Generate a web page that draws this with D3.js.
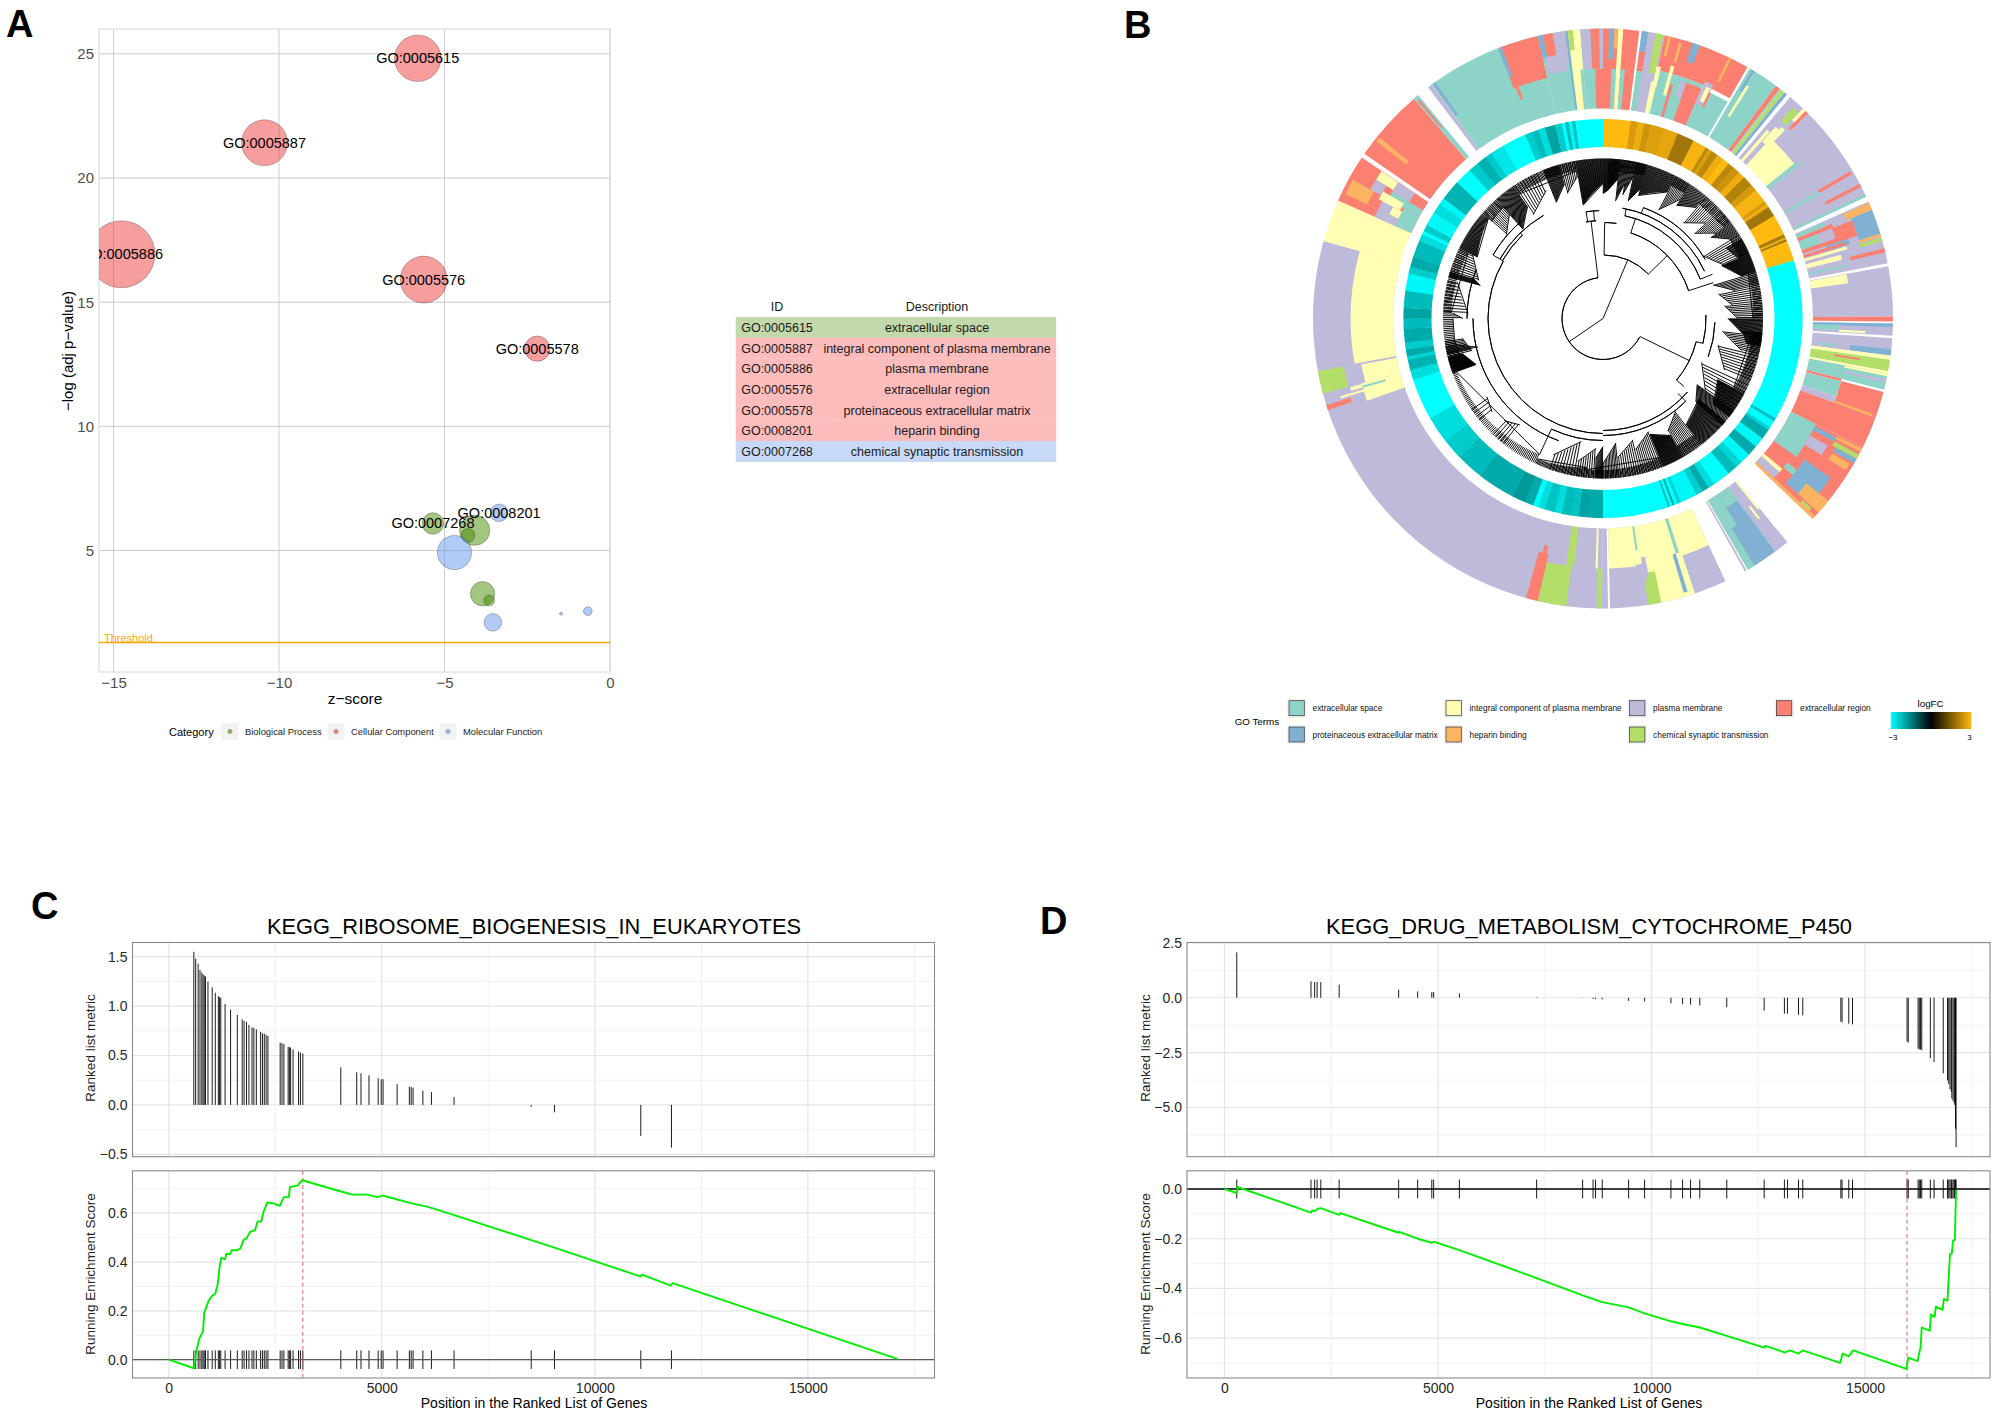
<!DOCTYPE html>
<html><head><meta charset="utf-8">
<script src="https://d3js.org/d3.v7.min.js"></script>
<style>html,body{margin:0;padding:0;background:#fff}svg{display:block}text{font-family:"Liberation Sans",Arial,sans-serif}</style>
</head><body><svg id="c" width="1999" height="1417"></svg>
<script>
// ---------- Panel A data ----------
const goIds   = ["GO:0005886","GO:0005615","GO:0005887","GO:0005576","GO:0005578","","GO:0007268","","GO:0008201","","","","","",""];
const goZ     = [-14.76,-5.81,-10.44,-5.63,-2.2,-4.09,-5.35,-4.29,-3.35,-4.7,-3.85,-3.65,-3.54,-0.67,-1.48];
const goLogP  = [16.93,24.82,21.42,15.91,13.13,5.82,6.09,5.61,6.52,4.92,3.26,2.99,2.11,2.56,2.46];
const goCount = [1000,481,471,491,144,205,103,42,69,261,133,26,69,17,2];
const goCat   = [1,1,1,1,1,0,0,0,2,2,0,0,2,2,2];
const catNames = ["Biological Process","Cellular Component","Molecular Function"];
const threshold = 1.3;
const zTicks = [-15,-10,-5,0], pTicks = [5,10,15,20,25];
const tableIds = ["GO:0005615","GO:0005887","GO:0005886","GO:0005576","GO:0005578","GO:0008201","GO:0007268"];
const tableDesc = ["extracellular space","integral component of plasma membrane","plasma membrane","extracellular region","proteinaceous extracellular matrix","heparin binding","chemical synaptic transmission"];
const tableGroup = [0,1,1,1,1,1,2];

// ---------- Panel B data ----------
const termNames = ["extracellular space","integral component of plasma membrane","plasma membrane","extracellular region","proteinaceous extracellular matrix","heparin binding","chemical synaptic transmission"];
// [start deg, end deg, inner fraction, outer fraction, term], painted in order
const ringBlocks = [
[0,7.2,0,1,3],[1.2,2.3,.62,1,4],[2.3,2.9,.75,1,5],[1.9,3,0,.5,0],[3,4,0,1,1],[4,5,0,.5,0],
[7.7,12.3,0,1,2],[7.7,9,0,.5,0],[7.7,9,.5,.75,3],[7.7,9,.75,1,4],[10.5,12,.5,1,6],
[12.3,29.9,.55,1,3],[12.3,23.2,0,.55,0],[11.5,12.8,0,.4,1],[12,13,.35,.6,1],[15,15.8,.27,.65,1],[16,16.7,0,.42,3],
[18,19.8,.3,.5,2],[19.5,23.2,0,.5,3],[23.2,29.9,0,.5,0],[23.3,25.3,.3,.6,2],[25,25.6,.3,.5,3],[24,25,.35,.55,1],
[25.7,26.3,.67,1,5],[15.4,16,.7,.95,5],[13,13.6,.75,1,5],[18,19.5,.75,1,4],
[30.4,36.6,0,1,0],[31.6,32.2,.35,.8,1],[30.9,31.5,.7,1,4],
[36.6,37.6,0,1,3],[37.6,37.9,0,1,0],[37.9,38.7,0,1,6],[38.7,39.4,0,1,4],
[40.2,65.2,0,1,2],[43,51,0,.45,1],[51,52,0,.5,0],[41,41.8,0,.5,1],[42,43,.35,.6,1],[43,44,.3,.65,1],[42,43.5,.7,.92,6],[43.6,44.5,.8,1,1],[44.3,45,.7,1,3],
[59.2,59.9,.5,.97,3],[62.3,63,.5,1,3],[59.5,60.2,0,.5,0],[64.6,65.2,0,1,0],
[66.2,79,0,1,2],[66.5,67.5,0,.4,0],[67.5,68.5,0,.47,3],[68.5,71,0,.25,0],[71,72,0,.45,3],[68,73,.72,1,4],[68.5,72,.45,.72,3],[66.5,68,.65,1,5],
[73,73.6,.72,1,5],[73.8,74.5,.7,1,6],[72,73.3,.3,.6,4],[72.5,73.2,0,.55,3],[73.5,74.2,0,.55,1],[75,76.2,0,.45,1],[76,76.8,.55,1,3],[77.5,78,0,.5,0],
[79.6,89.6,0,1,2],[79.7,81.8,0,.47,1],[89.6,90.6,0,1,3],
[91,93.4,0,1,2],[91,91.7,0,1,4],[91.6,92.7,0,.33,0],[92.7,93.2,.33,.66,1],
[93.9,97.4,0,1,2],[96.1,97.3,.48,1,4],[96.3,96.8,.1,.33,0],
[97.4,98.2,0,1,1],[98.2,100.5,0,1,6],[98.8,99.2,.3,.63,3],[100.5,101,0,1,1],[101,104.2,0,1,0],[101,101.5,.45,1,1],[102.2,102.8,.45,1,2],[104.2,104.8,0,.45,3],
[104.7,110,.45,1,3],[104.8,108.5,0,.45,0],[108.5,110,0,.45,2],[109.5,110,.45,.95,5],[110,116.4,0,1,3],
[116.4,133.7,0,1,3],[116.4,125.6,0,.35,0],[117,118,.35,.65,4],[116.7,117.4,.65,1,5],[118,119,.65,1,6],[119,120,.7,1,4],[119.5,122,.35,.6,2],
[120.5,122,.7,.95,5],[125,132,.45,.85,4],[129,132,.65,1,5],[128,129.5,.3,.45,0],[131,133,0,.3,2],[130,131,0,.3,1],[132,133,.3,.9,3],[132.3,133,.75,.9,6],[133,133.7,0,1,5],
[140.5,143.5,0,1,2],[140.5,141,0,.45,1],[141.8,142.3,.35,.55,1],[143.5,150,0,1,4],[143.5,147,0,.2,0],[147,150,0,.45,0],[148.5,150,.45,1,0],[150.3,150.7,0,1,2],
[155,178.6,0,1,2],[155,178.6,0,.5,1],[161.5,170,.47,1,1],[168.4,171,.6,1,6],[170,171,.4,.65,2],[162,162.8,0,.45,0],[162.8,163.6,.45,.95,4],[171.5,172,0,.3,0],[170.5,172.5,.48,.7,2],
[179,180.2,0,1,2],
[180.2,285.5,0,1,2],[180.2,181.2,.5,1,6],[181.2,181.7,0,.5,1],[186.7,188.5,0,.5,6],[187.3,193.2,.5,1,6],[193,195.4,.4,1,3],[193.5,194.5,.3,.45,3],
[251.6,252.6,.68,1,3],[255,259.5,.67,1,6],[250.8,255,0,.5,1],[253.9,254.4,.2,.5,0],[254,254.8,.5,.65,1],[253,253.5,.5,.8,1],[255,259.2,0,.45,1],[259.7,285.5,0,.53,1],
[285.5,294,0,1,1],
[294,303.7,0,1,3],[294,299,0,.22,0],[299,301,0,.45,0],[294,296,.22,.5,2],[296,298,.22,.35,1],[296,299,.35,.5,2],[298,300,.25,.55,1],[295.8,299,.65,.95,5],[299,301.5,.55,.7,2],[301,303.6,.2,.45,2],[301.5,303.6,.45,.7,1],
[304.6,319.3,0,1,3],[308,309,.5,.97,5],[319.3,320.4,0,1,0],[319.6,320,.5,.95,3],
[322.9,323.8,0,1,2],[323.8,347,0,1,0],[324,324.6,.5,1,4],[338.8,347,.46,1,3],[338.8,339.5,.6,1,4],[339.3,340,.3,.5,3],
[347,360,0,1,0],[347,348,.7,1,4],[348,350,.7,1,3],[347.5,352,.5,.72,2],[350,352.5,.6,1,2],[352.5,353,0,1,4],[353,355.5,0,1,1],[353,354,.75,1,6],[354.8,355.5,0,.5,0],[355.5,357.5,.5,1,2],[357.5,358.2,.5,1,3],[358.2,360,0,.5,3],[358.2,359.3,.5,1,3],[359.3,360,.5,1,2]
];
// inner ring: [start deg, end deg, logFC]
const fcSegments = [
[0,8,3],[8,10,2.5],[10,12,2.8],[12,14,2.4],[14,18,2.6],[18,22,2.7],[22,27,1.9],[27,31,2.9],[31,32,2.2],[32,33,2.6],[33,35,2.2],[35,37,2.8],[37,39,3],[39,41,2.2],[41,43,2.4],[43,45,2.8],[45,48,2.1],[48,50,2.5],[50,54,2.9],[54,55,2.5],[55,56,2.8],[56,59,1.9],[59,65,3],[65,66,2.0],[66,66.6,2.8],[66.6,67.2,1.9],[67.2,73,3],
[73,120,-3],[120,121,-2.3],[121,123,-3],[123,124,-2.5],[124,127,-2.0],[127,130,-2.9],[130,133,-2.0],[133,136,-2.9],[136,138,-2.5],[138,141,-2.2],[141,146,-3],[146,148,-2.6],[148,150,-2.0],[150,152,-2.4],[152,157,-2.9],[157,158,-2.5],[158,159,-3],[159,159.6,-2],[159.6,160.4,-3],[160.4,161,-2.2],[161,180,-3],
[180,184,-2],[184,187,-1.9],[187,189,-2.3],[189,192,-2.2],[192,194,-2.6],[194,197,-2.3],[197,199,-2.6],[199,200.5,-3],[200.5,203,-2],[203,207,-1.8],[207,218,-2.0],[218,226,-2.2],[226,232,-2.4],[232,240,-2.6],[240,252,-3],[252,255,-2.6],[255,258,-2.1],[258,259,-2.5],[259,261,-2.0],[261,263,-2.4],[263,267,-2.0],
[267,270,-2.2],[270,273,-1.9],[273,278,-2.2],[278,283,-2.9],[283,285,-2.4],[285,288,-2.0],[288,293,-2.2],[293,295,-2.6],[295,296,-3],[296,298,-2.4],[298,302,-2.9],[302,305,-2.6],[305,307,-2.9],[307,313,-2.1],[313,318,-3],[318,321,-2.4],[321,324,-2.1],[324,326,-2.4],[326,330,-2.7],[330,337,-3],[337,339,-2.4],[339,341,-2.2],[341,343,-2.6],[343,346,-1.9],[346,348,-2.4],[348,349,-3],[349,350,-2.2],[350,351,-2.9],[351,352,-2.3],[352,360,-3]
];
// dendrogram: [radius, start deg, end deg]
const treeArcs = [[41,117,353],[63.5,1,45.6],[90,18,72],[96,104,130],[98,350,356],[103,88,104],[112,131,180],[115,180,300],[116,300,316],[130,200,270],[136,270,291],[117,135,180],[105,12,68],[112,10,65],[118,20,60],[119,300,330],[127,300,322],[122,180,205],[96,1,8],[108,351,358],[112,92,110]];
// dendrogram: [angle deg, inner radius, outer radius]
const treeStems = [[235.6,0,41],[22.9,0,63.5],[353,41,98],[116,41,96],[1,63.5,96],[45.6,63.5,90],[72,90,116],[18,90,105],[104,96,103],[130,96,106],[351,98,108],[355,98,108],[12,105,112],[68,105,118],[135,106,117],[20,112,118],[300,115,127],[316,116,119],[205,122,150]];
// dendrogram tip combs: [start deg, end deg, radius at start, radius at end, tips]
const treeTips = [
[0,2,125,128,8],[2,6,128,140,22],[6,9,118,136,8],[9,12,125,145,8],[12,16,120,135,14],[16,27,128,142,36],[27,33,122,142,10],[33,40,135,145,20],[40,47,125,140,9],[47,53,125,142,10],[53,58,135,150,14],[58,66,118,132,9],[60,66,142,148,16],[66,73,130,145,32],[73,78,115,135,8],[78,84,118,130,7],[84,90,122,135,8],
[90,96,125,140,20],[95,100,140,146,16],[96,103,120,142,10],[103,113,118,132,9],[114,125,108,125,8],[118,128,130,140,42],[125,132,115,125,20],[130,142,125,135,52],[142,150,118,130,12],[150,158,135,125,38],[158,166,122,135,10],[166,174,125,140,9],[174,180,125,145,10],
[180,183,128,140,8],[183,190,130,145,8],[190,200,125,145,9],[186,205,150,155,44],[205,250,150,156,70],[218,224,135,142,5],[230,236,145,140,4],[250,256,135,145,38],[256,262,135,142,10],[257,260,128,150,6],[262,270,150,150,12],
[270,272,140,150,3],[272,284,135,150,10],[285,287,127,135,8],[287,296,130,145,10],[296,311,140,152,58],[311,318,128,140,10],[318,326,120,135,28],[326,336,125,140,9],[338,344,125,140,18],[344,350,130,145,8],[350,360,115,135,38],
[6,16,148,150,20],[27,33,150,150,14],[40,53,150,152,28],[58,66,150,150,16],[73,90,152,150,30],[96,118,150,148,50],[142,150,148,148,18],[158,186,150,152,60],[256,262,148,150,10],[272,296,152,150,40],[311,318,148,150,14],[326,350,150,150,50]
];
const logFCTicks = [-3,3];

// ---------- Panels C / D data ----------
const cGenes = [589,632,690,733,776,805,833,862,920,1020,1092,1164,1193,1221,1322,1451,1609,1724,1768,1825,1882,1954,1997,2055,2156,2199,2242,2285,2328,2615,2658,2702,2802,2831,2860,2917,3046,3090,3147,4038,4412,4512,4699,4915,4986,5030,5360,5647,5690,5734,5964,6165,6696,8507,9053,11079,11798];
const cMetric = [1.55,1.48,1.43,1.365,1.34,1.32,1.31,1.30,1.25,1.19,1.135,1.10,1.09,1.085,1.02,.965,.91,.865,.85,.84,.81,.785,.78,.765,.74,.725,.72,.71,.70,.63,.625,.615,.585,.585,.58,.56,.54,.53,.52,.38,.33,.32,.30,.27,.26,.26,.21,.185,.18,.175,.145,.13,.08,-.017,-.075,-.313,-.432];
const cEsX = [0,589,647,719,805,833,934,1020,1092,1150,1193,1236,1322,1351,1437,1480,1595,1681,1753,1825,1911,2026,2084,2170,2227,2314,2443,2601,2702,2817,2845,3018,3133,4024,4311,4670,4886,5030,5389,5676,6107,6682,8507,9053,11065,11108,11783,11826,17100];
const cEsY = [0,-.035,.034,.087,.117,.193,.241,.262,.27,.31,.38,.418,.411,.434,.432,.448,.448,.455,.49,.497,.524,.531,.566,.566,.607,.644,.641,.63,.666,.666,.708,.713,.735,.69,.676,.676,.666,.672,.655,.641,.625,.593,.49,.459,.341,.348,.303,.314,.003];
const dGenes = [287,2025,2111,2168,2255,2685,4078,4523,4854,4897,5500,7309,8386,8630,8688,8846,9463,9837,10454,10727,10914,11129,11761,12637,13111,13182,13441,13541,14432,14461,14618,14705,15983,16011,16241,16270,16299,16327,16528,16615,16830,16930,16959,16988,17017,17031,17060,17088,17103,17117,17131];
const dMetric = [2.07,.75,.72,.72,.72,.6,.37,.29,.26,.26,.2,.02,.01,-.05,-.06,-.07,-.14,-.17,-.25,-.29,-.31,-.35,-.43,-.58,-.72,-.73,-.78,-.8,-1.09,-1.12,-1.18,-1.21,-2.0,-2.04,-2.32,-2.35,-2.36,-2.39,-2.75,-2.93,-3.44,-3.77,-3.93,-4.16,-4.28,-4.59,-4.7,-4.8,-4.9,-5.97,-6.81];
const dEsX = [0,287,301,2025,2054,2111,2168,2255,2685,2714,4078,4093,4523,4854,4897,5500,7309,8386,8846,9463,9837,10454,10727,11129,11761,12637,12665,13068,13111,13240,13441,13541,14418,14475,14618,14719,15968,16011,16227,16299,16327,16514,16543,16629,16657,16816,16845,16930,16959,16988,17031,17060,17103,17117,17131];
const dEsY = [0,-.016,.008,-.095,-.086,-.09,-.081,-.077,-.104,-.097,-.176,-.172,-.2,-.216,-.212,-.246,-.358,-.428,-.455,-.476,-.5,-.532,-.543,-.557,-.591,-.638,-.631,-.654,-.658,-.649,-.662,-.649,-.699,-.662,-.673,-.649,-.723,-.678,-.692,-.635,-.557,-.57,-.505,-.514,-.473,-.486,-.442,-.449,-.354,-.262,-.259,-.208,-.205,-.097,-.003];
const geneTicks = [0,5000,10000,15000], geneMinor = [2500,7500,12500,17500];

// ---------- Drawing ----------
const svg = d3.select("#c");
const FONT = 14;
function panelLetter(t,x,y){svg.append("text").attr("x",x).attr("y",y).attr("font-size",38).attr("font-weight","bold").text(t);}
panelLetter("A",6,37);panelLetter("B",1124,38);panelLetter("C",31,919);panelLetter("D",1040,934);

// Panel A
(function(){
 const x=d3.scaleLinear().domain([-15.44,0]).range([99,610]);
 const y=d3.scaleLinear().domain([0.11,26]).range([672,29]);
 const r=d3.scaleSqrt().domain([0,1000]).range([0,33.5]);
 const g=svg.append("g");
 g.append("defs").append("clipPath").attr("id","clipA").append("rect").attr("x",99).attr("y",20).attr("width",530).attr("height",652);
 g.selectAll("line.gx").data(zTicks).join("line").attr("x1",d=>x(d)).attr("x2",d=>x(d)).attr("y1",29).attr("y2",672).attr("stroke","#cfcfcf");
 g.selectAll("line.gy").data(pTicks).join("line").attr("class","gy").attr("x1",99).attr("x2",610).attr("y1",d=>y(d)).attr("y2",d=>y(d)).attr("stroke","#c8c8c8");
 g.append("rect").attr("x",99).attr("y",29).attr("width",511).attr("height",643).attr("fill","none").attr("stroke","#d6d6d6");
 const cols=["#458b00","#ee3b3b","#6495ed"];
 const pl=g.append("g").attr("clip-path","url(#clipA)");
 pl.selectAll("circle").data(goZ).join("circle").attr("cx",d=>x(d)).attr("cy",(d,i)=>y(goLogP[i])).attr("r",(d,i)=>r(goCount[i]))
   .attr("fill",(d,i)=>cols[goCat[i]]).attr("fill-opacity",.5).attr("stroke","#000").attr("stroke-opacity",.35).attr("stroke-width",.7);
 pl.append("line").attr("x1",99).attr("x2",610).attr("y1",y(threshold)).attr("y2",y(threshold)).attr("stroke","orange").attr("stroke-width",1.5);
 pl.append("text").attr("x",104).attr("y",y(threshold)-.5).attr("font-size",11).attr("fill","orange").text("Threshold");
 pl.selectAll("text.go").data(goIds).join("text").attr("class","go").attr("x",(d,i)=>x(goZ[i])).attr("y",(d,i)=>y(goLogP[i])-.3).attr("dy",".36em").attr("text-anchor","middle").attr("font-size",14.5).attr("fill","#000").text(d=>d);
 const ax=g.append("g").attr("transform","translate(0,672)").call(d3.axisBottom(x).tickValues(zTicks).tickSize(0).tickPadding(5));
 const ay=g.append("g").attr("transform","translate(99,0)").call(d3.axisLeft(y).tickValues(pTicks).tickSize(0).tickPadding(5));
 [ax,ay].forEach(a=>{a.select(".domain").remove();a.selectAll("text").attr("font-size",15).attr("fill","#4d4d4d").style("font-family","Liberation Sans");});
 g.append("text").attr("x",355).attr("y",704).attr("text-anchor","middle").attr("font-size",15.5).text("z\u2212score");
 g.append("text").attr("transform","translate(73,351) rotate(-90)").attr("text-anchor","middle").attr("font-size",15).text("\u2212log (adj p\u2212value)");
 g.append("text").attr("x",169).attr("y",735.5).attr("font-size",11).text("Category");
 const lx=[230,336,448];
 catNames.forEach((n,i)=>{
  g.append("rect").attr("x",lx[i]-8.5).attr("y",723).attr("width",17).attr("height",17).attr("fill","#f2f2f2");
  g.append("circle").attr("cx",lx[i]).attr("cy",731.5).attr("r",2.2).attr("fill",cols[i]).attr("fill-opacity",.6).attr("stroke","#000").attr("stroke-opacity",.3).attr("stroke-width",.5);
  g.append("text").attr("x",lx[i]+15).attr("y",734.5).attr("font-size",9.4).attr("fill","#222").text(n);
 });
 // table
 const t=svg.append("g");
 const rowH=d3.scaleBand().domain(d3.range(7)).range([317,461.7]);
 const fills=["#c1d9ab","#fcbcbc","#c7d9f7"];
 t.selectAll("rect").data(tableIds).join("rect").attr("x",735.7).attr("width",320.5).attr("y",(d,i)=>rowH(i)).attr("height",rowH.bandwidth()+.3).attr("fill",(d,i)=>fills[tableGroup[i]]);
 t.selectAll("text.id").data(tableIds).join("text").attr("class","id").attr("x",777).attr("y",(d,i)=>rowH(i)+rowH.bandwidth()/2).attr("dy",".36em").attr("text-anchor","middle").attr("font-size",12.5).attr("fill","#1a1a1a").text(d=>d);
 t.selectAll("text.de").data(tableDesc).join("text").attr("class","de").attr("x",937).attr("y",(d,i)=>rowH(i)+rowH.bandwidth()/2).attr("dy",".36em").attr("text-anchor","middle").attr("font-size",12.5).attr("fill","#1a1a1a").text(d=>d);
 t.append("text").attr("x",777).attr("y",306.7).attr("dy",".36em").attr("text-anchor","middle").attr("font-size",12.5).attr("fill","#1a1a1a").text("ID");
 t.append("text").attr("x",937).attr("y",306.7).attr("dy",".36em").attr("text-anchor","middle").attr("font-size",12.5).attr("fill","#1a1a1a").text("Description");
})();

// Panel B
(function(){
 const cx=1603,cy=318.5;
 const g=svg.append("g").attr("transform",`translate(${cx},${cy})`);
 const ang=d3.scaleLinear().domain([0,360]).range([0,2*Math.PI]);
 const termCol=["#8dd3c7","#ffffb3","#bebada","#fb8072","#80b1d3","#fdb462","#b3de69"];
 const rr=d3.scaleLinear().domain([0,1]).range([210,290]);
 const arc=d3.arc();
 g.append("g").selectAll("path").data(ringBlocks).join("path")
  .attr("d",d=>arc({innerRadius:rr(d[2]),outerRadius:rr(d[3]),startAngle:ang(d[0]),endAngle:ang(d[1])}))
  .attr("fill",d=>termCol[d[4]]);
 const fc=d3.scaleLinear().domain([-3,0,3]).range(["#00ffff","#000000","#ffb90f"]).clamp(true);
 g.append("g").selectAll("path").data(fcSegments).join("path")
  .attr("d",d=>arc({innerRadius:171.5,outerRadius:199.6,startAngle:ang(d[0]),endAngle:ang(d[1])+.002}))
  .attr("fill",d=>fc(d[2]));
 const tree=g.append("g").attr("fill","none").attr("stroke","#000").attr("stroke-width",.95);
 tree.selectAll("path.a").data(treeArcs).join("path").attr("class","a")
  .attr("d",d=>arc({innerRadius:d[0],outerRadius:d[0],startAngle:ang(d[1]),endAngle:ang(d[2])}));
 const pt=(a,r)=>[r*Math.sin(ang(a)),-r*Math.cos(ang(a))];
 tree.selectAll("path.s").data(treeStems).join("path").attr("class","s")
  .attr("d",d=>d3.line()([pt(d[0],d[1]),pt(d[0],d[2])]));
 tree.selectAll("path.b").data(treeTips).join("path").attr("class","b")
  .attr("d",d=>d3.line()([pt(d[0],d[2]),pt(d[1],d[3])]));
 tree.selectAll("g.t").data(treeTips).join("g").attr("class","t").each(function(d){
  const a=d3.scaleLinear().domain([0,d[4]]).range([d[0],d[1]]);
  const rad=d3.scaleLinear().domain([0,d[4]]).range([d[2],d[3]]);
  d3.select(this).selectAll("path").data(d3.range(d[4])).join("path")
   .attr("d",i=>d3.line()([pt(a(i+.5),rad(i+.5)),pt(a(i+.5),160)]));
 });
 // legend
 const L=svg.append("g");
 L.append("text").attr("x",1234.7).attr("y",725).attr("font-size",9.8).text("GO Terms");
 const lgX=[1289,1446,1629.6,1776.5,1289,1446,1629.6], lgY=[700.7,700.7,700.7,700.7,727,727,727];
 termNames.forEach((n,i)=>{
  L.append("rect").attr("x",lgX[i]-2).attr("y",lgY[i]-2).attr("width",19.3).attr("height",19.3).attr("fill","#f2f2f2");
  L.append("rect").attr("x",lgX[i]).attr("y",lgY[i]).attr("width",15.3).attr("height",15).attr("fill",termCol[i]).attr("stroke","#333").attr("stroke-width",.7);
  L.append("text").attr("x",lgX[i]+23.5).attr("y",lgY[i]+10.5).attr("font-size",8.4).attr("fill","#111").text(n);
 });
 L.append("text").attr("x",1930.6).attr("y",706.5).attr("text-anchor","middle").attr("font-size",9.8).text("logFC");
 const grad=svg.append("defs").append("linearGradient").attr("id","fcGrad");
 [-3,0,3].forEach((v,i)=>grad.append("stop").attr("offset",(i*50)+"%").attr("stop-color",fc(v)));
 L.append("rect").attr("x",1890.8).attr("y",712).attr("width",80.6).attr("height",17).attr("fill","url(#fcGrad)");
 const sc=d3.scaleLinear().domain([-3,3]).range([1893,1969.4]);
 L.selectAll("text.f").data(logFCTicks).join("text").attr("class","f").attr("x",d=>sc(d)).attr("y",739.5).attr("text-anchor","middle").attr("font-size",8).text(d3.format("d"));
})();

// Panels C / D
function gsea(o){
 const g=svg.append("g");
 const x=d3.scaleLinear().domain(o.xd).range([o.x0,o.x1]);
 const yT=d3.scaleLinear().domain(o.topD).range([o.topR[0],o.topR[1]]);
 const yB=d3.scaleLinear().domain(o.botD).range([o.botR[0],o.botR[1]]);
 const T=[942.5,1156.7],B=[1170.8,1378];
 function grid(y,major,minor,R){
  minor.forEach(v=>g.append("line").attr("x1",o.x0).attr("x2",o.x1).attr("y1",y(v)).attr("y2",y(v)).attr("stroke","#efefef").attr("stroke-width",.8));
  major.forEach(v=>g.append("line").attr("x1",o.x0).attr("x2",o.x1).attr("y1",y(v)).attr("y2",y(v)).attr("stroke","#e4e4e4").attr("stroke-width",1.2));
  geneMinor.filter(v=>x(v)<o.x1).forEach(v=>g.append("line").attr("x1",x(v)).attr("x2",x(v)).attr("y1",R[0]).attr("y2",R[1]).attr("stroke","#efefef").attr("stroke-width",.8));
  geneTicks.forEach(v=>g.append("line").attr("x1",x(v)).attr("x2",x(v)).attr("y1",R[0]).attr("y2",R[1]).attr("stroke","#e4e4e4").attr("stroke-width",1.2));
 }
 grid(yT,o.topT,o.topM,T);grid(yB,o.botT,o.botM,B);
 g.append("g").selectAll("line").data(o.genes).join("line").attr("x1",d=>x(d)).attr("x2",d=>x(d)).attr("y1",yT(0)).attr("y2",(d,i)=>yT(o.metric[i])).attr("stroke","#000").attr("stroke-width",.9);
 g.append("g").selectAll("line").data(o.genes).join("line").attr("x1",d=>x(d)).attr("x2",d=>x(d)).attr("y1",yB(.038)).attr("y2",yB(-.038)).attr("stroke","#000").attr("stroke-width",.9);
 g.append("line").attr("x1",o.x0).attr("x2",o.x1).attr("y1",yB(0)).attr("y2",yB(0)).attr("stroke",o.zero).attr("stroke-width",1.3);
 g.append("line").attr("x1",x(o.lead)).attr("x2",x(o.lead)).attr("y1",B[0]).attr("y2",B[1]).attr("stroke","#e2606a").attr("stroke-width",1).attr("stroke-dasharray","4 3");
 g.append("path").datum(o.esx).attr("fill","none").attr("stroke","#00ee00").attr("stroke-width",1.9).attr("stroke-linejoin","round")
  .attr("d",d3.line().x(d=>x(d)).y((d,i)=>yB(o.esy[i])));
 [T,B].forEach(R=>g.append("rect").attr("x",o.x0).attr("y",R[0]).attr("width",o.x1-o.x0).attr("height",R[1]-R[0]).attr("fill","none").attr("stroke","#8a8a8a").attr("stroke-width",1.1));
 const a1=g.append("g").attr("transform",`translate(${o.x0},0)`).call(d3.axisLeft(yT).tickValues(o.topT).tickFormat(d3.format(".1f")).tickSize(0).tickPadding(5));
 const a2=g.append("g").attr("transform",`translate(${o.x0},0)`).call(d3.axisLeft(yB).tickValues(o.botT).tickFormat(d3.format(".1f")).tickSize(0).tickPadding(5));
 const a3=g.append("g").attr("transform",`translate(0,${B[1]})`).call(d3.axisBottom(x).tickValues(geneTicks).tickFormat(d3.format("d")).tickSize(0).tickPadding(5));
 [a1,a2,a3].forEach(a=>{a.select(".domain").remove();a.selectAll("text").attr("font-size",FONT).attr("fill","#262626").style("font-family","Liberation Sans");});
 g.append("text").attr("x",o.tx).attr("y",934).attr("text-anchor","middle").attr("font-size",22).attr("textLength",o.tw).attr("lengthAdjust","spacingAndGlyphs").text(o.title);
 g.append("text").attr("x",o.tx).attr("y",1408).attr("text-anchor","middle").attr("font-size",FONT).text("Position in the Ranked List of Genes");
 g.append("text").attr("transform",`translate(${o.x0-37.5},1048) rotate(-90)`).attr("text-anchor","middle").attr("font-size",13.5).attr("fill","#222").text("Ranked list metric");
 g.append("text").attr("transform",`translate(${o.x0-37.5},1274) rotate(-90)`).attr("text-anchor","middle").attr("font-size",13.5).attr("fill","#222").text("Running Enrichment Score");
}
gsea({title:"KEGG_RIBOSOME_BIOGENESIS_IN_EUKARYOTES",tx:534,tw:534,x0:132.5,x1:934.5,xd:[-851,17972],
 topD:[1.5,-.5],topR:[956.7,1154.3],botD:[0,.6],botR:[1359.7,1213.2],
 topT:[-.5,0,.5,1,1.5],topM:[-.25,.25,.75,1.25],botT:[0,.2,.4,.6],botM:[.1,.3,.5,.7],
 genes:cGenes,metric:cMetric,esx:cEsX,esy:cEsY,lead:3147,zero:"#5a5a5a"});
gsea({title:"KEGG_DRUG_METABOLISM_CYTOCHROME_P450",tx:1589,tw:526,x0:1187,x1:1990,xd:[-878,17925],
 topD:[2.5,-5],topR:[942.9,1107.5],botD:[0,-.6],botR:[1189,1338.2],
 topT:[2.5,0,-2.5,-5],topM:[1.25,-1.25,-3.75,-6.25],botT:[0,-.2,-.4,-.6],botM:[-.1,-.3,-.5,-.7],
 genes:dGenes,metric:dMetric,esx:dEsX,esy:dEsY,lead:15983,zero:"#000"});
</script></body></html>
